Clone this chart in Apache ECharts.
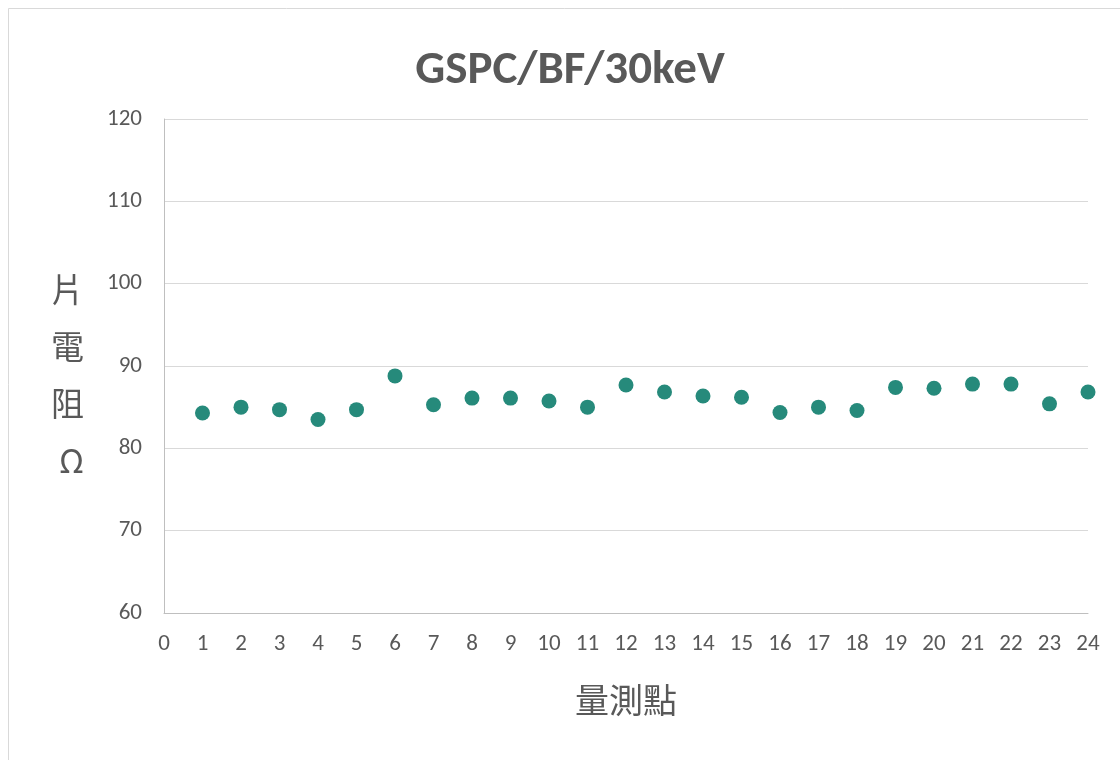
<!DOCTYPE html>
<html>
<head>
<meta charset="utf-8">
<script src="https://cdn.jsdelivr.net/npm/echarts@6/dist/echarts.min.js"></script>
<style>
  html, body { margin: 0; padding: 0; background: #fff; }
  #chart { width: 1120px; height: 760px; }
</style>
</head>
<body>
<div id="chart"></div>
<script>
  // 量測點 1..24
  const points = [1, 2, 3, 4, 5, 6, 7, 8, 9, 10, 11, 12, 13, 14, 15, 16, 17, 18, 19, 20, 21, 22, 23, 24]
  // 片電阻 (Ω)
  const resistance = [84.3, 85.0, 84.7, 83.5, 84.7, 88.8, 85.3, 86.1, 86.1, 85.75, 85.0, 87.7,
    86.85, 86.35, 86.2, 84.35, 85.0, 84.6, 87.4, 87.3, 87.8, 87.8, 85.4, 86.85]
  const xTicks = {min: 0, max: 24, interval: 1}
  const yTicks = {min: 60, max: 120, interval: 10}

  const textColor = '#595959'
  const font = 'Carlito, "Open Sans", "Noto Sans", sans-serif'
  const cjk = '"Noto Sans CJK TC", sans-serif'

  let myChart = echarts.init(document.getElementById('chart'))
  let option = {
    backgroundColor: '#fff',
    animation: false,
    graphic: [
      { // 外框
        type: 'rect',
        shape: {x: 8.5, y: 8.5, width: 1140, height: 780},
        style: {fill: null, stroke: '#d9d9d9', lineWidth: 1}
      }
    ],
    title: {
      text: 'GSPC/BF/30keV',
      left: 565,
      top: 43,
      textAlign: 'center',
      textStyle: {
        color: textColor,
        fontSize: 47,
        fontWeight: 'bold',
        fontFamily: font
      }
    },
    grid: {
      left: 164,
      right: 32,
      top: 119,
      bottom: 147,
      containLabel: false
    },
    xAxis: {
      type: 'value',
      min: xTicks.min,
      max: xTicks.max,
      interval: xTicks.interval,
      name: '量測點',
      nameLocation: 'middle',
      nameGap: 70,
      nameTextStyle: {color: textColor, fontSize: 34, fontFamily: cjk},
      axisLine: {show: true, lineStyle: {color: '#bfbfbf', width: 1}},
      axisTick: {show: false},
      axisLabel: {color: textColor, fontSize: 23, margin: 20, fontFamily: font},
      splitLine: {show: false}
    },
    yAxis: {
      type: 'value',
      min: yTicks.min,
      max: yTicks.max,
      interval: yTicks.interval,
      // 直排標題, 上面加一行空白往下推
      name: '{g| }\n{t|片}\n{t|電}\n{t|阻}\n{t|Ω}',
      nameLocation: 'middle',
      nameRotate: 0,
      nameGap: 80,
      nameTextStyle: {
        color: textColor,
        fontSize: 33,
        fontFamily: cjk,
        rich: {
          g: {fontSize: 10, lineHeight: 18},
          t: {color: textColor, fontSize: 33, lineHeight: 57, fontFamily: cjk}
        }
      },
      axisLine: {show: true, lineStyle: {color: '#bfbfbf', width: 1}},
      axisTick: {show: false},
      axisLabel: {color: textColor, fontSize: 23, margin: 22, fontFamily: font},
      splitLine: {show: true, lineStyle: {color: '#d9d9d9', width: 1}}
    },
    series: [
      {
        name: '片電阻',
        type: 'scatter',
        symbol: 'circle',
        symbolSize: 15,
        itemStyle: {color: '#268a7b', opacity: 1},
        data: points.map((p, i) => [p, resistance[i]])
      }
    ]
  }
  myChart.setOption(option)
</script>
</body>
</html>
